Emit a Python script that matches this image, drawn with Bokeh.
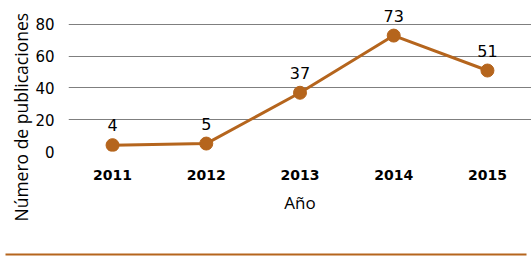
from bokeh.plotting import figure
from bokeh.models import Range1d, FactorRange, FixedTicker, Title, ColumnDataSource
from bokeh.layouts import column, row
from bokeh.core.properties import value
from bokeh.embed import file_html
from bokeh.resources import INLINE

years = ["2011", "2012", "2013", "2014", "2015"]
counts = [4, 5, 37, 73, 51]
y_ticks = [0, 20, 40, 60, 80]

COLOR = "#B5651D"
FONT = "DejaVu Sans"

src = ColumnDataSource(dict(x=years, y=counts, t=[str(c) for c in counts]))

x_range = FactorRange(factors=years, range_padding=-0.03, range_padding_units="absolute")

# frame: top at y=0 (value 95.1), bottom at y=151 (value 0); 80 at y=24
p = figure(x_range=x_range, y_range=Range1d(0, 95.1), width=531, height=248,
           output_backend="svg", toolbar_location=None,
           min_border_left=68, min_border_right=0, min_border_top=0, min_border_bottom=97)
p.outline_line_color = None
p.background_fill_color = "white"

p.line("x", "y", source=src, line_color=COLOR, line_width=3)
p.scatter("x", "y", source=src, size=13, fill_color=COLOR, line_color=COLOR)
p.text("x", "y", text="t", source=src, y_offset=-20, text_align="center",
       text_baseline="alphabetic", text_font=value(FONT), text_font_size="16px",
       text_color="black")

p.xgrid.visible = False
p.ygrid.ticker = FixedTicker(ticks=y_ticks)
p.ygrid.grid_line_color = "#7f7f7f"
p.ygrid.grid_line_width = 1

p.yaxis.ticker = FixedTicker(ticks=y_ticks)
for ax in (p.xaxis, p.yaxis):
    ax.axis_line_color = None
    ax.major_tick_line_color = None
    ax.minor_tick_line_color = None
    ax.major_label_text_font = FONT
    ax.major_label_text_color = "black"

p.yaxis.major_label_text_font_size = "15px"
p.yaxis.major_label_standoff = 8
p.xaxis.major_label_text_font_size = "14px"
p.xaxis.major_label_text_font_style = "bold"
p.xaxis.major_label_standoff = 12
p.xaxis.axis_label = "Año"
p.xaxis.axis_label_text_font = "Open Sans"
p.xaxis.axis_label_text_font_style = "normal"
p.xaxis.axis_label_text_font_size = "17px"
p.xaxis.axis_label_text_color = "black"
p.xaxis.axis_label_standoff = 8

ytitle = Title(text="Número de publicaciones", align="left", offset=-70,
               text_font="Open Sans", text_font_size="17.5px", text_font_style="normal",
               text_color="black", standoff=0)
p.add_layout(ytitle, "left")

# thin separator line below the chart
p2 = figure(width=531, height=10, output_backend="svg", toolbar_location=None,
            x_axis_type=None, y_axis_type=None,
            min_border_left=5, min_border_right=5, min_border_top=3, min_border_bottom=5)
p2.outline_line_color = None
p2.background_fill_color = COLOR
p2.grid.visible = False

layout = column(p, row(p2), spacing=0)
open("out.html", "w").write(file_html(layout, INLINE))
